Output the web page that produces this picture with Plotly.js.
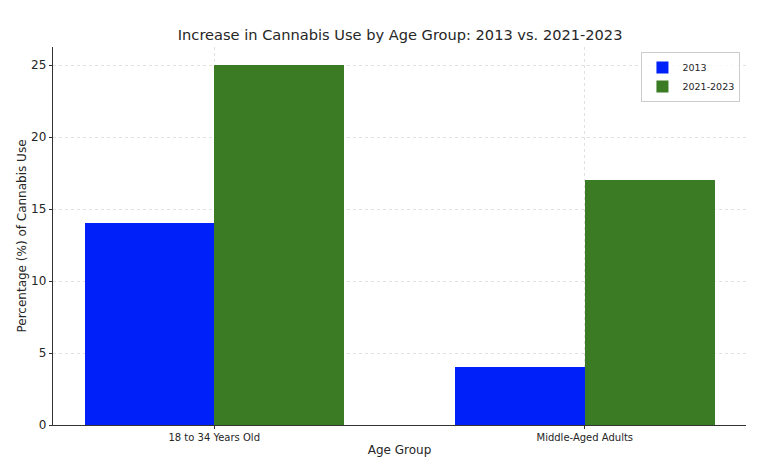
<!DOCTYPE html>
<html>
<head>
<meta charset="utf-8">
<script src="https://cdn.plot.ly/plotly-3.0.1.min.js"></script>
<style>html,body{margin:0;padding:0;background:#fff}#chart{width:768px;height:475px}</style>
</head>
<body>
<div id="chart"></div>
<script>
const categories = ["18 to 34 Years Old", "Middle-Aged Adults"];
const seriesNames = ["2013", "2021-2023"];
const values2013 = [14, 4];
const values2021 = [25, 17];
const yTicks = [0, 5, 10, 15, 20, 25];

const idx = categories.map((_, i) => i);
const barW = 0.35;
const font = "DejaVu Sans, sans-serif";

const traces = [
  {type: "bar", name: seriesNames[0], x: idx.map(i => i - barW/2), y: values2013, width: barW,
   marker: {color: "#0020fa", line: {width: 0}}},
  {type: "bar", name: seriesNames[1], x: idx.map(i => i + barW/2), y: values2021, width: barW,
   marker: {color: "#3a7b24", line: {width: 0}}}
];

const layout = {
  width: 768, height: 475,
  margin: {l: 53, r: 22, t: 47, b: 50},
  paper_bgcolor: "#fff", plot_bgcolor: "#fff",
  font: {family: font, color: "#262626"},
  title: {text: "Increase in Cannabis Use by Age Group: 2013 vs. 2021-2023", x: 0.521, xanchor: "center", y: 0.926, yanchor: "middle", font: {size: 14.6, color: "#262626"}},
  barmode: "overlay",
  bargap: 0,
  xaxis: {range: [-0.435, 1.435], tickvals: idx, ticktext: categories, tickfont: {size: 10},
          showgrid: true, gridcolor: "#d9d9d9", griddash: "dot", gridwidth: 0.8,
          showline: true, linecolor: "#333", linewidth: 1.2, ticks: "outside", ticklen: 3, tickcolor: "#333",
          zeroline: false, title: {text: "Age Group", font: {size: 12}, standoff: 3}},
  yaxis: {range: [0, 26.25], tickvals: yTicks, tickfont: {size: 12},
          showgrid: true, gridcolor: "#d9d9d9", griddash: "dot", gridwidth: 0.8,
          showline: true, linecolor: "#333", linewidth: 1.2, ticks: "outside", ticklen: 3, tickcolor: "#333",
          zeroline: false, title: {text: "Percentage (%) of Cannabis Use", font: {size: 12}, standoff: 2}},
  legend: {x: 0.992, y: 0.987, xanchor: "right", yanchor: "top", bgcolor: "rgba(255,255,255,0.8)",
           bordercolor: "#cccccc", borderwidth: 1, font: {size: 9.5}, tracegroupgap: 0, itemwidth: 30},
  showlegend: true
};

Plotly.newPlot("chart", traces, layout, {displayModeBar: false, staticPlot: true});
</script>
</body>
</html>
